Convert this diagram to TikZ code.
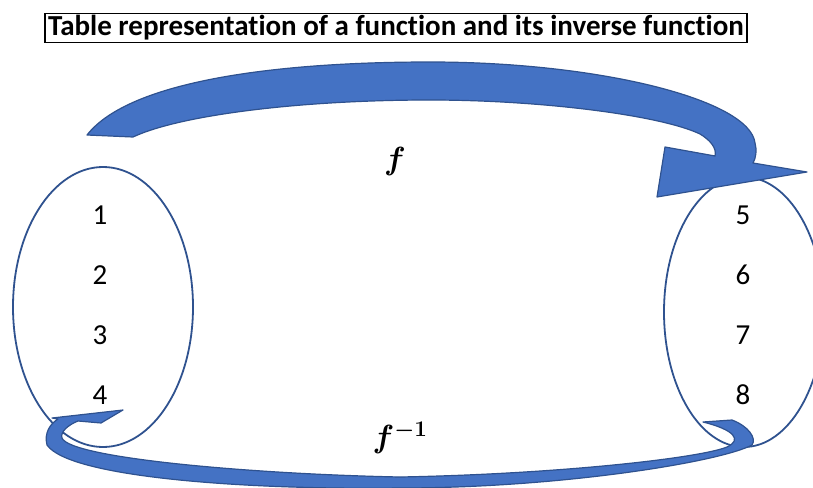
\RequirePackage{fix-cm}
\documentclass[tikz,border=0pt]{standalone}
\usepackage{fontspec}
\setmainfont{Carlito}[Ligatures=NoCommon]
\usepackage{bm}
\usetikzlibrary{shapes.geometric}

\definecolor{arrowblue}{RGB}{68,114,196}
\definecolor{edgeblue}{RGB}{47,82,143}

\begin{document}
\begin{tikzpicture}
[
	setoval/.style={ellipse,draw=edgeblue,line width=1.8pt,inner sep=0pt},
	num/.style={font=\fontsize{29}{34}\selectfont},
	lab/.style={font=\fontsize{32}{38}\selectfont},
	blockarrow/.style={fill=arrowblue,draw=edgeblue,line width=1.2pt,line join=round},
	titlebox/.style={draw=black,line width=1.6pt,inner xsep=3pt,inner ysep=2pt,font=\fontsize{29}{34}\selectfont\bfseries},
	x=1pt,y=-1pt
]
	\useasboundingbox (0,0) rectangle (813,487);

	% the two sets
	\node[setoval,minimum width=180pt,minimum height=280pt] (dom) at (103,307) {};
	\node[setoval,minimum width=160pt,minimum height=270pt] (codom) at (744,312) {};

	\foreach \v [count=\i] in {1,...,4}
		\node[num] (d\v) at (100,{155+60*\i}) {\v};
	\foreach \v [count=\i] in {5,...,8}
		\node[num] (c\v) at (743,{155+60*\i}) {\v};

	% title
	\node[titlebox] (title) at (396,28) {Table representation of a function and its inverse function};

	% f arrow (top)
	\filldraw[blockarrow] (87,135)
		.. controls (130,80) and (280,62) .. (430,62)
		.. controls (600,62) and (750,100) .. (755,143)
		.. controls (757,150) and (756,158) .. (753,163)
		-- (807,172) -- (657,197) -- (665,147) -- (715,156)
		.. controls (717,148) and (710,140) .. (700,134)
		.. controls (660,115) and (540,100) .. (430,100)
		.. controls (300,100) and (180,115) .. (133,137)
		-- cycle;

	% inverse arrow (bottom)
	\filldraw[blockarrow] (703,422) -- (732,420)
		.. controls (748,426) and (757,438) .. (752,445)
		.. controls (720,462) and (560,488) .. (400,488)
		.. controls (250,490) and (70,478) .. (47,445)
		.. controls (44,433) and (50,424) .. (58,419)
		-- (52,418) -- (123,410) -- (101,423) -- (78,421)
		.. controls (68,425) and (60,432) .. (62,438)
		.. controls (70,458) and (250,474) .. (400,477)
		.. controls (560,474) and (700,458) .. (727,447)
		.. controls (742,440) and (735,430) .. (703,422)
		-- cycle;

	\node[lab] (f) at (395,161) {$\bm{f}$};
	\node[lab] (finv) at (400,438) {$\bm{f^{-1}}$};

\end{tikzpicture}
\end{document}
